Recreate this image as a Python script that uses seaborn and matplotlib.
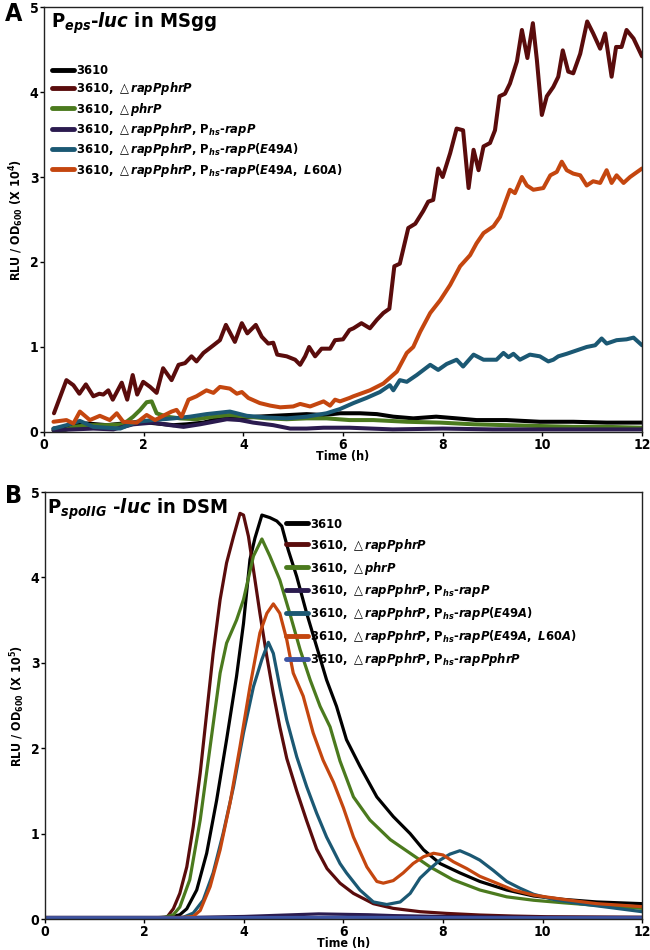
import numpy as np
import pandas as pd
import matplotlib
matplotlib.use("Agg")
import matplotlib.pyplot as plt
import seaborn as sns

# ---- panel A: Peps-luc in MSgg (RLU/OD600, x 10^4) ----
a_black_t = [0.19, 0.45, 0.86, 1.26, 1.59, 1.93, 2.26, 2.6, 2.86, 3.2, 3.46, 3.67, 3.93, 4.27, 4.6, 4.94,
             5.27, 5.61, 5.94, 6.34, 6.68, 7.01, 7.41, 7.87, 8.28, 8.68, 9.28, 9.95, 10.62, 11.29, 12.0]
a_black_v = [0.04, 0.06, 0.10, 0.08, 0.10, 0.12, 0.10, 0.08, 0.09, 0.11, 0.15, 0.18, 0.16, 0.18, 0.19, 0.20,
             0.21, 0.20, 0.22, 0.22, 0.21, 0.18, 0.16, 0.18, 0.16, 0.14, 0.14, 0.12, 0.12, 0.11, 0.11]

a_red_t = [0.2, 0.45, 0.59, 0.71, 0.84, 0.99, 1.11, 1.19, 1.29, 1.38, 1.56, 1.67, 1.78, 1.87, 1.99, 2.13,
           2.26, 2.39, 2.56, 2.70, 2.83, 2.96, 3.06, 3.2, 3.4, 3.53, 3.65, 3.83, 3.97, 4.08, 4.25, 4.37,
           4.5, 4.6, 4.68, 4.87, 5.04, 5.14, 5.24, 5.32, 5.44, 5.57, 5.74, 5.84, 6.0, 6.13, 6.21, 6.37,
           6.54, 6.68, 6.81, 6.93, 7.03, 7.14, 7.31, 7.45, 7.61, 7.71, 7.81, 7.91, 8.0, 8.15, 8.28, 8.41,
           8.52, 8.62, 8.72, 8.82, 8.95, 9.05, 9.14, 9.25, 9.35, 9.49, 9.59, 9.7, 9.81, 9.89, 9.99, 10.09,
           10.22, 10.32, 10.41, 10.52, 10.62, 10.76, 10.9, 11.02, 11.16, 11.26, 11.39, 11.48, 11.59, 11.69,
           11.83, 12.0]
a_red_v = [0.22, 0.61, 0.55, 0.45, 0.56, 0.42, 0.45, 0.44, 0.49, 0.38, 0.58, 0.38, 0.67, 0.44, 0.59, 0.53,
           0.46, 0.75, 0.61, 0.79, 0.81, 0.89, 0.83, 0.93, 1.02, 1.08, 1.26, 1.06, 1.28, 1.16, 1.26, 1.12,
           1.04, 1.05, 0.91, 0.89, 0.85, 0.79, 0.89, 1.00, 0.89, 0.98, 0.98, 1.08, 1.09, 1.20, 1.22, 1.28,
           1.22, 1.32, 1.40, 1.45, 1.95, 1.98, 2.40, 2.45, 2.60, 2.71, 2.73, 3.10, 3.00, 3.28, 3.57, 3.55,
           2.87, 3.32, 3.08, 3.36, 3.40, 3.55, 3.95, 3.98, 4.10, 4.36, 4.73, 4.40, 4.81, 4.38, 3.73, 3.95,
           4.06, 4.18, 4.49, 4.24, 4.22, 4.45, 4.83, 4.69, 4.51, 4.69, 4.18, 4.53, 4.53, 4.73,
           4.63, 4.42]

a_green_t = [0.19, 0.32, 0.59, 0.92, 1.26, 1.59, 1.79, 1.93, 2.06, 2.16, 2.26, 2.46, 2.73, 3.06, 3.4, 3.73,
             4.07, 4.47, 4.87, 5.27, 5.67, 6.13, 6.61, 7.28, 7.95, 8.62, 9.28, 9.95, 10.62, 11.29, 12.0]
a_green_v = [0.02, 0.00, 0.06, 0.08, 0.08, 0.09, 0.18, 0.26, 0.35, 0.36, 0.22, 0.18, 0.16, 0.15, 0.18, 0.20,
             0.18, 0.16, 0.15, 0.16, 0.16, 0.14, 0.14, 0.12, 0.11, 0.09, 0.08, 0.07, 0.06, 0.06, 0.05]

a_purple_t = [0.19, 0.59, 0.99, 1.39, 1.79, 2.19, 2.53, 2.8, 3.13, 3.4, 3.67, 3.93, 4.2, 4.6, 4.94, 5.27,
              5.61, 6.13, 7.0, 8.0, 9.0, 10.0, 11.0, 12.0]
a_purple_v = [0.02, 0.03, 0.04, 0.03, 0.09, 0.11, 0.08, 0.06, 0.09, 0.12, 0.15, 0.14, 0.11, 0.08, 0.04, 0.04,
              0.05, 0.05, 0.03, 0.04, 0.03, 0.03, 0.03, 0.03]

a_teal_t = [0.19, 0.45, 0.72, 0.99, 1.26, 1.53, 1.86, 2.19, 2.6, 2.93, 3.26, 3.73, 4.07, 4.47, 4.87, 5.27,
            5.67, 5.94, 6.21, 6.47, 6.74, 6.94, 7.01, 7.14, 7.28, 7.48, 7.75, 7.91, 8.08, 8.28, 8.41, 8.62,
            8.82, 9.08, 9.22, 9.32, 9.42, 9.55, 9.75, 9.95, 10.12, 10.22, 10.32, 10.49, 10.69, 10.89, 11.06,
            11.19, 11.29, 11.49, 11.69, 11.83, 12.0]
a_teal_v = [0.04, 0.08, 0.13, 0.06, 0.05, 0.04, 0.12, 0.14, 0.16, 0.18, 0.21, 0.24, 0.19, 0.17, 0.16, 0.18,
            0.22, 0.27, 0.34, 0.40, 0.47, 0.55, 0.49, 0.61, 0.59, 0.67, 0.79, 0.73, 0.80, 0.85, 0.77, 0.91,
            0.85, 0.85, 0.93, 0.88, 0.92, 0.85, 0.91, 0.89, 0.83, 0.85, 0.89, 0.92, 0.96, 1.00, 1.02,
            1.10, 1.04, 1.08, 1.09, 1.11, 1.02]

a_orange_t = [0.19, 0.45, 0.59, 0.72, 0.92, 1.12, 1.32, 1.46, 1.59, 1.86, 2.06, 2.23, 2.39, 2.56, 2.66, 2.76,
              2.9, 3.06, 3.26, 3.4, 3.53, 3.73, 3.87, 3.97, 4.1, 4.33, 4.54, 4.74, 5.0, 5.14, 5.34, 5.61,
              5.74, 5.84, 5.94, 6.13, 6.21, 6.54, 6.81, 7.08, 7.28, 7.41, 7.55, 7.75, 7.95, 8.15, 8.35, 8.55,
              8.68, 8.82, 9.02, 9.15, 9.25, 9.35, 9.45, 9.59, 9.69, 9.82, 10.02, 10.16, 10.29, 10.39, 10.49,
              10.62, 10.76, 10.89, 11.02, 11.16, 11.29, 11.39, 11.49, 11.63, 11.76, 12.0]
a_orange_v = [0.12, 0.14, 0.10, 0.24, 0.14, 0.19, 0.14, 0.22, 0.12, 0.11, 0.20, 0.14, 0.19, 0.24, 0.26, 0.18,
              0.38, 0.42, 0.49, 0.46, 0.53, 0.51, 0.45, 0.47, 0.40, 0.34, 0.31, 0.29, 0.30, 0.33, 0.30, 0.36,
              0.31, 0.38, 0.36, 0.40, 0.42, 0.49, 0.57, 0.71, 0.93, 1.00, 1.18, 1.40, 1.55, 1.73, 1.95, 2.08,
              2.22, 2.34, 2.42, 2.53, 2.69, 2.85, 2.81, 3.00, 2.90, 2.85, 2.87, 3.02, 3.06, 3.18, 3.08,
              3.04, 3.02, 2.90, 2.95, 2.93, 3.08, 2.93, 3.02, 2.93, 3.00, 3.10]

# ---- panel B: PspoIIG-luc in DSM (RLU/OD600, x 10^5) ----
b_black_t = [0, 1, 2, 2.5, 2.71, 2.85, 3.05, 3.25, 3.45, 3.65, 3.85, 3.99, 4.12, 4.22, 4.36, 4.52, 4.66, 4.76,
             4.89, 5.06, 5.26, 5.46, 5.66, 5.86, 6.06, 6.33, 6.67, 7.0, 7.34, 7.61, 7.94, 8.34, 8.74, 9.28,
             9.82, 10.42, 11.09, 12.0]
b_black_v = [0.01, 0.01, 0.01, 0.02, 0.05, 0.12, 0.34, 0.77, 1.39, 2.10, 2.84, 3.46, 4.21, 4.46, 4.73, 4.70,
             4.66, 4.60, 4.32, 4.01, 3.58, 3.19, 2.80, 2.49, 2.10, 1.79, 1.43, 1.20, 1.00, 0.81, 0.65, 0.54,
             0.44, 0.34, 0.27, 0.23, 0.20, 0.18]

b_red_t = [0, 1, 2, 2.45, 2.58, 2.71, 2.85, 2.98, 3.12, 3.25, 3.38, 3.52, 3.65, 3.79, 3.92, 3.99, 4.09, 4.19,
           4.32, 4.46, 4.59, 4.72, 4.86, 5.06, 5.26, 5.46, 5.67, 5.93, 6.2, 6.6, 7.0, 7.54, 8.07, 8.74, 9.41,
           10.08, 12.0]
b_red_v = [0.01, 0.01, 0.01, 0.02, 0.12, 0.30, 0.61, 1.08, 1.71, 2.41, 3.11, 3.74, 4.17, 4.48, 4.75, 4.73,
           4.48, 4.09, 3.58, 3.07, 2.64, 2.25, 1.88, 1.50, 1.15, 0.82, 0.59, 0.42, 0.30, 0.18, 0.125, 0.086,
           0.066, 0.047, 0.035, 0.027, 0.02]

b_green_t = [0, 1, 2, 2.4, 2.58, 2.71, 2.91, 3.12, 3.32, 3.52, 3.65, 3.85, 3.99, 4.19, 4.36, 4.52, 4.72, 4.92,
             5.13, 5.33, 5.53, 5.73, 5.93, 6.2, 6.53, 6.94, 7.34, 7.74, 8.2, 8.74, 9.28, 9.82, 10.42, 11.09, 12.0]
b_green_v = [0.01, 0.01, 0.01, 0.02, 0.05, 0.14, 0.46, 1.16, 2.02, 2.88, 3.23, 3.50, 3.74, 4.25, 4.45, 4.25,
             3.97, 3.58, 3.15, 2.80, 2.49, 2.25, 1.85, 1.43, 1.16, 0.93, 0.77, 0.61, 0.46, 0.34, 0.26, 0.22,
             0.19, 0.16, 0.125]

b_purple_t = [0, 1, 2, 3, 4, 4.5, 5, 5.5, 6, 6.5, 7, 8, 9, 10, 12]
b_purple_v = [0.02, 0.02, 0.02, 0.02, 0.03, 0.04, 0.05, 0.06, 0.055, 0.05, 0.04, 0.03, 0.025, 0.02, 0.02]

b_teal_t = [0, 1, 2, 2.6, 2.78, 2.98, 3.18, 3.38, 3.58, 3.79, 3.99, 4.19, 4.36, 4.49, 4.59, 4.72, 4.86, 5.06,
            5.26, 5.46, 5.66, 5.8, 5.93, 6.06, 6.33, 6.6, 6.87, 7.14, 7.34, 7.54, 7.74, 7.94, 8.14, 8.34,
            8.54, 8.74, 9.01, 9.28, 9.55, 9.82, 10.22, 10.75, 11.42, 12.0]
b_teal_v = [0.01, 0.01, 0.01, 0.01, 0.02, 0.07, 0.22, 0.54, 1.00, 1.55, 2.18, 2.72, 3.04, 3.24, 3.11, 2.72,
            2.33, 1.90, 1.55, 1.24, 0.96, 0.80, 0.65, 0.54, 0.34, 0.20, 0.17, 0.20, 0.30, 0.48, 0.59, 0.69,
            0.76, 0.80, 0.75, 0.69, 0.57, 0.44, 0.36, 0.29, 0.23, 0.18, 0.13, 0.086]

b_orange_t = [0, 1, 2, 2.8, 2.98, 3.12, 3.32, 3.52, 3.72, 3.92, 4.12, 4.32, 4.46, 4.59, 4.72, 4.86, 4.99,
              5.19, 5.39, 5.59, 5.8, 6.0, 6.2, 6.47, 6.67, 6.8, 7.0, 7.2, 7.4, 7.61, 7.81, 8.0, 8.21, 8.48,
              8.74, 9.08, 9.41, 9.82, 10.42, 11.09, 12.0]
b_orange_v = [0.01, 0.01, 0.01, 0.02, 0.03, 0.10, 0.38, 0.81, 1.36, 2.02, 2.72, 3.35, 3.58, 3.69, 3.58, 3.27,
              2.88, 2.61, 2.18, 1.86, 1.60, 1.30, 0.96, 0.61, 0.44, 0.42, 0.45, 0.54, 0.65, 0.73, 0.77, 0.75,
              0.67, 0.59, 0.50, 0.42, 0.34, 0.28, 0.23, 0.18, 0.145]

b_blue_t = [0, 3, 6, 9, 12]
b_blue_v = [0.015, 0.015, 0.02, 0.015, 0.015]

DT = r'$\triangle$'
labels = [
    '3610',
    '3610, ' + DT + r'$\mathit{rapPphrP}$',
    '3610, ' + DT + r'$\mathit{phrP}$',
    '3610, ' + DT + r'$\mathit{rapPphrP}$, P$_{\mathit{hs}}$-$\mathit{rapP}$',
    '3610, ' + DT + r'$\mathit{rapPphrP}$, P$_{\mathit{hs}}$-$\mathit{rapP(E49A)}$',
    '3610, ' + DT + r'$\mathit{rapPphrP}$, P$_{\mathit{hs}}$-$\mathit{rapP(E49A,\ L60A)}$',
    '3610, ' + DT + r'$\mathit{rapPphrP}$, P$_{\mathit{hs}}$-$\mathit{rapPphrP}$',
]
colors = ['#000000', '#5a0c0c', '#4b7a1e', '#2b1b4f', '#1b5873', '#c4460f', '#3d54a3']

series_a = [(a_black_t, a_black_v), (a_red_t, a_red_v), (a_green_t, a_green_v),
            (a_purple_t, a_purple_v), (a_teal_t, a_teal_v), (a_orange_t, a_orange_v)]
series_b = [(b_black_t, b_black_v), (b_red_t, b_red_v), (b_green_t, b_green_v),
            (b_purple_t, b_purple_v), (b_teal_t, b_teal_v), (b_orange_t, b_orange_v),
            (b_blue_t, b_blue_v)]


def long_df(series):
    frames = []
    for lab, (t, v) in zip(labels, series):
        frames.append(pd.DataFrame({"time": t, "rlu": v, "strain": lab}))
    return pd.concat(frames, ignore_index=True)


sns.set_style("ticks")
plt.rcParams['font.family'] = ['DejaVu Sans']
plt.rcParams['font.stretch'] = 'condensed'
plt.rcParams['font.weight'] = 'bold'
plt.rcParams['text.color'] = 'black'
plt.rcParams['axes.labelcolor'] = 'black'
plt.rcParams['xtick.color'] = 'black'
plt.rcParams['ytick.color'] = 'black'
plt.rcParams['mathtext.fontset'] = 'custom'
plt.rcParams['mathtext.rm'] = 'DejaVu Sans:weight=bold:stretch=condensed'
plt.rcParams['mathtext.bf'] = 'DejaVu Sans:weight=bold:stretch=condensed'
plt.rcParams['mathtext.it'] = 'DejaVu Sans:style=oblique:weight=bold:stretch=condensed'
plt.rcParams['mathtext.fallback'] = 'cm'

fig = plt.figure(figsize=(6.5, 9.5), dpi=100)
axA = fig.add_axes([0.0677, 0.5453, 0.920, 0.4473])
axB = fig.add_axes([0.0692, 0.0326, 0.9185, 0.4495])

dfa = long_df(series_a)
dfb = long_df(series_b)

sns.lineplot(data=dfa, x="time", y="rlu", hue="strain", hue_order=labels[:6],
             palette=dict(zip(labels, colors)), linewidth=2.9, errorbar=None, sort=False, ax=axA)
sns.lineplot(data=dfb, x="time", y="rlu", hue="strain", hue_order=labels,
             palette=dict(zip(labels, colors)), linewidth=2.3, errorbar=None, sort=False, ax=axB)

for ax in (axA, axB):
    ax.set_xlim(0, 12)
    ax.set_ylim(0, 5)
    ax.set_xticks(range(0, 13, 2))
    ax.set_yticks(range(0, 6))
    ax.tick_params(axis='both', direction='out', length=3, width=1, pad=1, labelsize=10)
    for lab in ax.get_xticklabels() + ax.get_yticklabels():
        lab.set_fontweight('bold')
    for sp in ax.spines.values():
        sp.set_visible(True)
        sp.set_linewidth(1.0)
        sp.set_color('#222222')
    ax.set_xlabel('Time (h)', fontsize=9, fontweight='bold', labelpad=-1)

axA.set_ylabel(r'RLU / OD$_{\mathbf{600}}$ (X 10$^{\mathbf{4}}$)', fontsize=9, fontweight='bold', labelpad=3)
axB.set_ylabel(r'RLU / OD$_{\mathbf{600}}$ (X 10$^{\mathbf{5}}$)', fontsize=9, fontweight='bold', labelpad=3)

axA.text(0.012, 0.963, r'P$_{\mathit{eps}}$-$\mathit{luc}$ in MSgg', transform=axA.transAxes,
         fontsize=14.5, fontweight='bold', va='center', ha='left')
axB.text(0.004, 0.960, r'P$_{\mathit{spoIIG}}$ -$\mathit{luc}$ in DSM', transform=axB.transAxes,
         fontsize=14.5, fontweight='bold', va='center', ha='left')

sns.move_legend(axA, 'upper left', bbox_to_anchor=(0.005, 0.878), frameon=False, title=None,
                fontsize=9.3, handlelength=1.7, handletextpad=0.15, labelspacing=0.26, borderaxespad=0)
sns.move_legend(axB, 'upper left', bbox_to_anchor=(0.395, 0.952), frameon=False, title=None,
                fontsize=9.3, handlelength=1.7, handletextpad=0.15, labelspacing=0.46, borderaxespad=0)
for ax in (axA, axB):
    for line in ax.get_legend().get_lines():
        line.set_linewidth(3.5)

fig.text(0.008, 0.985, 'A', fontsize=18, fontweight='bold', va='center', ha='left')
fig.text(0.008, 0.478, 'B', fontsize=18, fontweight='bold', va='center', ha='left')

fig.savefig('out.png', dpi=100)
